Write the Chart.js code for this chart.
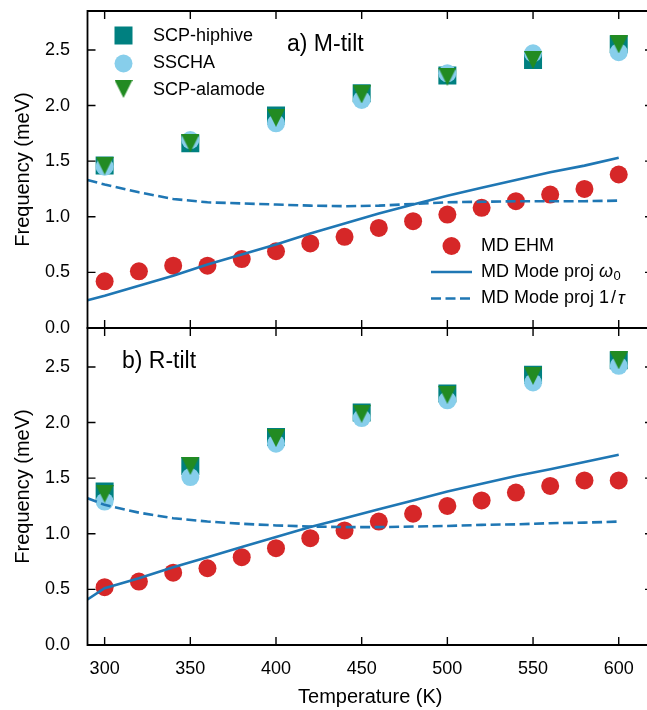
<!DOCTYPE html>
<html><head><meta charset="utf-8">
<script src="https://cdn.jsdelivr.net/npm/chart.js@4.4.1/dist/chart.umd.min.js"></script>
<style>
html,body{margin:0;padding:0;background:#fff;overflow:hidden;width:647px;height:710px;}
#wrap{position:relative;width:647px;height:710px;overflow:hidden;background:#fff;}
canvas{position:absolute;left:0;}
#c1{top:0;width:660px;height:340px;}
#c2{top:317px;width:660px;height:393px;}
</style></head><body>
<div id="wrap">
<canvas id="c1" width="660" height="340"></canvas>
<canvas id="c2" width="660" height="393"></canvas>
</div>
<script>
// ---------- data ----------
const scpTemps = [300, 350, 400, 450, 500, 550, 600];
const hiphiveA = [1.46, 1.66, 1.91, 2.11, 2.27, 2.41, 2.55];
const sschaA   = [1.45, 1.69, 1.84, 2.05, 2.29, 2.47, 2.48];
const alamodeA = [1.46, 1.66, 1.89, 2.10, 2.26, 2.41, 2.55];
const hiphiveB = [1.38, 1.61, 1.87, 2.09, 2.26, 2.43, 2.56];
const sschaB   = [1.29, 1.51, 1.81, 2.04, 2.20, 2.36, 2.51];
const alamodeB = [1.36, 1.61, 1.86, 2.08, 2.25, 2.42, 2.56];

const mdTemps = [300, 320, 340, 360, 380, 400, 420, 440, 460, 480, 500, 520, 540, 560, 580, 600];
const ehmA = [0.42, 0.51, 0.56, 0.56, 0.62, 0.69, 0.76, 0.82, 0.90, 0.96, 1.02, 1.08, 1.14, 1.20, 1.25, 1.38];
const ehmB = [0.52, 0.57, 0.65, 0.69, 0.79, 0.87, 0.96, 1.03, 1.11, 1.18, 1.25, 1.30, 1.37, 1.43, 1.48, 1.48];

const lineTemps = [290, 300, 320, 340, 360, 380, 400, 420, 440, 460, 480, 500, 520, 540, 560, 580, 600];
const omegaA = [0.25, 0.29, 0.38, 0.47, 0.57, 0.66, 0.75, 0.85, 0.94, 1.03, 1.11, 1.19, 1.26, 1.33, 1.40, 1.46, 1.53];
const tauA   = [1.33, 1.29, 1.22, 1.16, 1.13, 1.12, 1.11, 1.10, 1.095, 1.10, 1.115, 1.13, 1.135, 1.14, 1.14, 1.14, 1.145];
const omegaB = [0.41, 0.51, 0.60, 0.70, 0.79, 0.88, 0.97, 1.06, 1.14, 1.22, 1.30, 1.38, 1.45, 1.52, 1.58, 1.645, 1.71];
const tauB   = [1.32, 1.26, 1.19, 1.14, 1.11, 1.09, 1.075, 1.065, 1.06, 1.06, 1.065, 1.07, 1.08, 1.085, 1.095, 1.10, 1.11];

const xTicks = [300, 350, 400, 450, 500, 550, 600];
const yTicks = [0, 0.5, 1.0, 1.5, 2.0, 2.5];
const seriesNames = ['SCP-hiphive', 'SSCHA', 'SCP-alamode', 'MD EHM', 'MD Mode proj ω0', 'MD Mode proj 1/τ'];
const panelTitles = ['a) M-tilt', 'b) R-tilt'];
const xTitle = 'Temperature (K)';
const yTitle = 'Frequency (meV)';

// ---------- style ----------
const FONT = '"Liberation Sans", Arial, Helvetica, sans-serif';
const C_TEAL = '#008080', C_SKY = '#87ceeb', C_GREEN = '#228b22', C_RED = '#d62728', C_BLUE = '#1f77b4';
const MS = 18;
const DASH = [10, 4.5];
const TL = 8;

function triDown(color, size) {
  const c = document.createElement('canvas');
  c.width = size; c.height = size;
  const g = c.getContext('2d');
  g.fillStyle = color;
  g.beginPath(); g.moveTo(0, 0); g.lineTo(size, 0); g.lineTo(size / 2, size); g.closePath(); g.fill();
  return c;
}
const TRI = triDown(C_GREEN, MS);

const pts = (xs, ys) => xs.map((x, i) => ({x: x, y: ys[i]}));

function buildDatasets(hip, ssc, ala, ehm, om, ta) {
  const markerBase = {showLine: false, pointBorderWidth: 0, pointBorderColor: 'rgba(0,0,0,0)', borderWidth: 0};
  return [
    Object.assign({label: seriesNames[0], data: pts(scpTemps, hip), pointStyle: 'rect', pointRadius: MS / Math.SQRT2,
      pointBackgroundColor: C_TEAL, backgroundColor: C_TEAL, order: 6}, markerBase),
    Object.assign({label: seriesNames[1], data: pts(scpTemps, ssc), pointStyle: 'circle', pointRadius: MS / 2,
      pointBackgroundColor: C_SKY, backgroundColor: C_SKY, order: 5}, markerBase),
    Object.assign({label: seriesNames[2], data: pts(scpTemps, ala), pointStyle: TRI, pointRadius: MS / 2,
      pointBackgroundColor: C_GREEN, backgroundColor: C_GREEN, order: 4}, markerBase),
    Object.assign({label: seriesNames[3], data: pts(mdTemps, ehm), pointStyle: 'circle', pointRadius: MS / 2,
      pointBackgroundColor: C_RED, backgroundColor: C_RED, order: 3}, markerBase),
    {label: seriesNames[4], data: pts(lineTemps, om), showLine: true, pointRadius: 0, borderColor: C_BLUE,
      borderWidth: 2.6, tension: 0, order: 2},
    {label: seriesNames[5], data: pts(lineTemps, ta), showLine: true, pointRadius: 0, borderColor: C_BLUE,
      borderWidth: 2.6, borderDash: DASH, tension: 0, order: 1}
  ];
}

function framePlugin(label, labelX, withLegend) {
  return {
    id: 'frame',
    afterDraw(chart) {
      const ctx = chart.ctx, a = chart.chartArea, xs = chart.scales.x, ys = chart.scales.y;
      ctx.save();
      ctx.strokeStyle = '#000';
      ctx.lineWidth = 1.8;
      ctx.beginPath(); ctx.rect(a.left, a.top, a.right - a.left, a.bottom - a.top); ctx.stroke();
      ctx.lineWidth = 1.4;
      ctx.beginPath();
      xTicks.forEach(v => {
        const px = xs.getPixelForValue(v);
        ctx.moveTo(px, a.top); ctx.lineTo(px, a.top + TL);
        ctx.moveTo(px, a.bottom); ctx.lineTo(px, a.bottom - TL);
      });
      yTicks.forEach(v => {
        const py = ys.getPixelForValue(v);
        ctx.moveTo(a.left, py); ctx.lineTo(a.left + TL, py);
        ctx.moveTo(a.right, py); ctx.lineTo(a.right - TL, py);
      });
      ctx.stroke();

      // panel label
      ctx.fillStyle = '#000';
      ctx.font = '23px ' + FONT;
      ctx.textBaseline = 'alphabetic';
      ctx.textAlign = 'left';
      ctx.fillText(label, labelX, 51);

      if (withLegend) {
        ctx.font = '18px ' + FONT;
        ctx.textBaseline = 'middle';
        // top-left legend
        const lx = 123.5, tx = 153;
        ctx.fillStyle = C_TEAL; ctx.fillRect(lx - MS / 2, 35.5 - MS / 2, MS, MS);
        ctx.fillStyle = C_SKY; ctx.beginPath(); ctx.arc(lx, 63.5, MS / 2, 0, Math.PI * 2); ctx.fill();
        ctx.drawImage(TRI, lx - MS / 2, 89 - MS / 2);
        ctx.fillStyle = '#000';
        ctx.fillText(seriesNames[0], tx, 36);
        ctx.fillText(seriesNames[1], tx, 63.5);
        ctx.fillText(seriesNames[2], tx, 90);
        // bottom-right legend
        const hx0 = 431, hx1 = 472, tx2 = 481;
        ctx.fillStyle = C_RED; ctx.beginPath(); ctx.arc((hx0 + hx1) / 2, 246, MS / 2, 0, Math.PI * 2); ctx.fill();
        ctx.strokeStyle = C_BLUE; ctx.lineWidth = 2.6;
        ctx.beginPath(); ctx.moveTo(hx0, 272); ctx.lineTo(hx1, 272); ctx.stroke();
        ctx.setLineDash(DASH);
        ctx.beginPath(); ctx.moveTo(hx0, 298.5); ctx.lineTo(hx1, 298.5); ctx.stroke();
        ctx.setLineDash([]);
        ctx.fillStyle = '#000';
        ctx.fillText(seriesNames[3], tx2, 246);
        const base = 'MD Mode proj ';
        ctx.fillText(base, tx2, 272);
        let w = ctx.measureText(base).width;
        ctx.font = 'italic 18px ' + FONT;
        ctx.fillText('ω', tx2 + w, 272);
        const ww = ctx.measureText('ω').width;
        ctx.font = '13px ' + FONT;
        ctx.fillText('0', tx2 + w + ww + 0.5, 276);
        ctx.font = '18px ' + FONT;
        ctx.fillText(base, tx2, 298.5);
        let x2 = tx2 + w;
        ctx.fillText('1', x2, 298.5); x2 += ctx.measureText('1').width + 2;
        ctx.fillText('/', x2, 298.5); x2 += ctx.measureText('/').width + 2;
        ctx.font = 'italic 18px ' + FONT;
        ctx.fillText('τ', x2, 298.5);
      }
      ctx.restore();
    }
  };
}

function yScale() {
  return {
    type: 'linear', min: 0, max: 2.85,
    afterBuildTicks: s => { s.ticks = yTicks.map(v => ({value: v})); },
    afterFit: s => { s.width = 87.5; s.paddingTop = 0; s.paddingBottom = 0; },
    grid: {display: false, drawTicks: false, tickLength: 0},
    border: {display: false},
    ticks: {padding: 17.5, color: '#000', font: {family: FONT, size: 18}, callback: v => Number(v).toFixed(1)},
    title: {display: true, text: yTitle, color: '#000', font: {family: FONT, size: 20}, padding: {top: 11, bottom: 0}}
  };
}

function baseOptions(xDisplay, padBottom) {
  return {
    responsive: false, animation: false, devicePixelRatio: 1,
    layout: {autoPadding: false, padding: {left: 0, right: 7, top: 11, bottom: padBottom}},
    plugins: {legend: {display: false}, tooltip: {enabled: false}},
    scales: {
      x: {
        type: 'linear', min: 290, max: 620, display: xDisplay,
        afterBuildTicks: s => { s.ticks = xTicks.map(v => ({value: v})); },
        afterFit: s => { s.height = xDisplay ? 65 : 0; s.paddingLeft = 0; s.paddingRight = 0; },
        grid: {display: false, drawTicks: false, tickLength: 0},
        border: {display: false},
        ticks: {padding: 13, color: '#000', font: {family: FONT, size: 18}, maxRotation: 0, callback: v => String(v)},
        title: {display: true, text: xTitle, color: '#000', font: {family: FONT, size: 20}, padding: {top: 0, bottom: 1}}
      },
      y: yScale()
    }
  };
}

new Chart(document.getElementById('c1'), {
  type: 'scatter',
  data: {datasets: buildDatasets(hiphiveA, sschaA, alamodeA, ehmA, omegaA, tauA)},
  options: baseOptions(false, 12),
  plugins: [framePlugin(panelTitles[0], 287, true)]
});

new Chart(document.getElementById('c2'), {
  type: 'scatter',
  data: {datasets: buildDatasets(hiphiveB, sschaB, alamodeB, ehmB, omegaB, tauB)},
  options: baseOptions(true, 0),
  plugins: [framePlugin(panelTitles[1], 122, false)]
});
</script>
</body></html>
